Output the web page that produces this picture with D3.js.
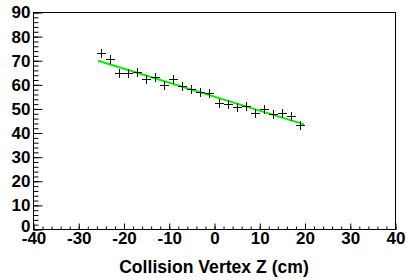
<!DOCTYPE html>
<html>
<head>
<meta charset="utf-8">
<script src="https://cdn.jsdelivr.net/npm/d3@7"></script>
<style>
  body { margin: 0; background: #fff; }
  svg { display: block; }
</style>
</head>
<body>
<div class="chart-div"></div>
<script>
const w = 407;
const h = 280;

// data
const zPos = [-25, -23, -21, -19, -17, -15, -13, -11, -9, -7, -5, -3, -1, 1, 3, 5, 7, 9, 11, 13, 15, 17, 19];
const counts = [72.9, 70.5, 64.6, 64.6, 65.0, 62.1, 62.9, 59.7, 62.3, 59.3, 58.2, 56.7, 56.4, 52.1, 52.0, 50.7, 51.1, 48.3, 49.8, 47.6, 48.2, 46.9, 43.1];
const fitZ = [-25.6, 19.9];
const fitY = [69.8, 43.4];
const xTicks = [-40, -30, -20, -10, 0, 10, 20, 30, 40];
const yTicks = [0, 10, 20, 30, 40, 50, 60, 70, 80, 90];

const padL = 33, padR = 395, padT = 12, padB = 229;
const font = "Liberation Sans, Arial, Helvetica, sans-serif";

const svg = d3.select(".chart-div")
    .append("svg")
    .attr("width", w)
    .attr("height", h);

const xScale = d3.scaleLinear().domain([-40, 40]).range([padL, padR]);
const yScale = d3.scaleLinear().domain([0, 90]).range([padB, padT]);

// frame
svg.append("rect")
    .attr("x", padL + 0.5)
    .attr("y", padT + 0.5)
    .attr("width", padR - padL)
    .attr("height", padB - padT)
    .attr("fill", "none")
    .attr("stroke", "#000");

// minor ticks
svg.append("g")
    .attr("transform", `translate(${padL + 0.5},0.5)`)
    .call(d3.axisLeft(yScale).tickValues(d3.range(0, 91, 2)).tickSize(-5).tickFormat(""))
    .call(g => g.select(".domain").remove());
svg.append("g")
    .attr("transform", `translate(0.5,${padB + 0.5})`)
    .call(d3.axisBottom(xScale).tickValues(d3.range(-40, 41, 2)).tickSize(-3).tickFormat(""))
    .call(g => g.select(".domain").remove());

// major ticks + labels
const yAx = svg.append("g")
    .attr("id", "y-axis")
    .attr("transform", `translate(${padL + 0.5},0.5)`)
    .call(d3.axisLeft(yScale).tickValues(yTicks).tickSize(-9).tickPadding(3).tickFormat(d => String(d)))
    .call(g => g.select(".domain").remove());
const xAx = svg.append("g")
    .attr("id", "x-axis")
    .attr("transform", `translate(0.5,${padB + 0.5})`)
    .call(d3.axisBottom(xScale).tickValues(xTicks).tickSize(-6).tickPadding(2).tickFormat(d => String(d)))
    .call(g => g.select(".domain").remove());

svg.selectAll(".tick line").attr("stroke", "#000");
svg.selectAll("#x-axis text, #y-axis text")
    .attr("font-family", font)
    .attr("font-weight", "bold")
    .attr("font-size", 17)
    .attr("fill", "#000");
// nudge the 0 label up a touch, away from -40
yAx.selectAll(".tick text").filter(d => d === 0).attr("y", -3);

// fit line
svg.append("line")
    .attr("x1", xScale(fitZ[0]))
    .attr("y1", yScale(fitY[0]))
    .attr("x2", xScale(fitZ[1]))
    .attr("y2", yScale(fitY[1]))
    .attr("stroke", "#00ee00")
    .attr("stroke-width", 2);

// cross markers
const s = 4.5;
const marks = svg.append("g").attr("stroke", "#111").attr("stroke-width", 1);
zPos.forEach((z, i) => {
    const cx = Math.round(xScale(z)) + 0.5;
    const cy = Math.round(yScale(counts[i])) + 0.5;
    marks.append("line").attr("x1", cx - s).attr("x2", cx + s).attr("y1", cy).attr("y2", cy);
    marks.append("line").attr("x1", cx).attr("x2", cx).attr("y1", cy - s).attr("y2", cy + s);
});

svg.append("text")
    .attr("x", 214)
    .attr("y", 273)
    .attr("text-anchor", "middle")
    .attr("font-family", font)
    .attr("font-weight", "bold")
    .attr("font-size", 17.6)
    .text("Collision Vertex Z (cm)");
</script>
</body>
</html>
